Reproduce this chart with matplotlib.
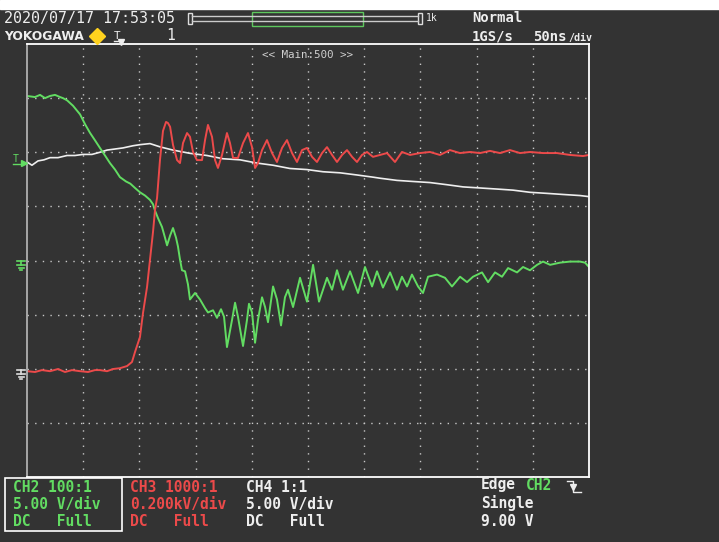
import matplotlib
matplotlib.use("Agg")
import matplotlib.pyplot as plt
from matplotlib.patches import Rectangle

# ---- waveform data (time in ns, 50 ns/div) ----
t_ch2 = [0, 7.1, 11.6, 16.0, 20.5, 24.9, 29.4, 32.0, 35.6, 40.9,
         47.2, 51.6, 56.0, 60.5, 64.9, 69.4, 73.8, 78.3, 82.7, 85.4,
         88.1, 91.9, 96.1, 100.5, 105.0, 109.4, 112.1, 113.9, 116.6, 120.1,
         122.8, 124.6, 127.3, 129.9, 132.6, 134.3, 136.1, 137.9, 140.6, 143.2,
         145.0, 149.5, 153.9, 158.4, 161.0, 165.5, 169.0, 172.6, 175.3, 177.9,
         182.4, 185.1, 187.7, 192.2, 195.7, 197.5, 200.2, 202.9, 205.5, 209.1,
         211.8, 214.4, 218.9, 222.4, 226.0, 229.5, 232.2, 236.7, 242.9, 249.1,
         254.5, 259.8, 266.9, 271.4, 275.8, 281.1, 287.4, 294.5, 300.7, 307.0,
         311.4, 316.7, 323.0, 329.2, 333.6, 338.1, 342.5, 347.9, 352.3, 356.8,
         364.8, 371.9, 378.1, 385.3, 391.5, 396.8, 404.8, 410.2, 416.4, 422.6,
         428.0, 436.0, 441.3, 447.5, 453.8, 459.1, 465.4, 474.2, 483.1, 492.0,
         496.5, 500.0]
v_ch2 = [15.6, 15.5, 15.7, 15.4, 15.6, 15.7, 15.5, 15.4, 15.2, 14.7,
         13.9, 13.0, 12.2, 11.5, 10.8, 10.1, 9.4, 8.8, 8.1, 7.9,
         7.7, 7.5, 7.1, 6.7, 6.4, 6.0, 5.6, 5.0, 4.3, 3.5,
         2.5, 1.8, 2.7, 3.4, 2.5, 1.7, 0.5, -0.5, -0.6, -1.8,
         -3.2, -2.6, -3.2, -4.0, -4.4, -4.2, -4.9, -4.1, -4.8, -7.6,
         -5.1, -3.5, -4.8, -7.5, -5.1, -3.6, -4.4, -7.2, -5.1, -3.0,
         -3.9, -5.3, -2.0, -3.2, -5.6, -3.0, -2.3, -3.9, -1.2, -3.4,
         0.0, -3.4, -1.2, -2.3, -0.5, -2.3, -0.6, -2.6, -0.2, -2.0,
         -0.6, -2.1, -0.7, -2.3, -1.1, -2.0, -0.9, -2.0, -2.6, -1.1,
         -0.9, -1.2, -2.0, -1.1, -1.6, -1.1, -0.7, -1.6, -0.7, -1.1,
         -0.3, -0.7, -0.2, -0.5, 0.0, 0.3, 0.0, 0.2, 0.3, 0.3,
         0.2, -0.2]

t_ch3 = [0, 7.1, 13.3, 20.5, 27.6, 33.8, 40.0, 47.2, 54.3, 60.5,
         64.9, 71.2, 76.5, 82.7, 89.0, 93.4, 96.1, 100.5, 103.2, 106.8,
         109.4, 112.1, 113.9, 115.7, 118.3, 121.0, 123.7, 125.4, 127.3, 129.9,
         133.5, 136.1, 138.8, 142.4, 145.0, 147.7, 151.2, 155.7, 158.4, 161.0,
         164.6, 167.3, 169.9, 173.5, 177.9, 180.6, 183.3, 187.7, 192.2, 196.6,
         200.2, 202.9, 205.5, 209.1, 213.5, 218.0, 222.4, 226.9, 231.3, 235.8,
         240.2, 244.7, 249.1, 253.6, 258.0, 262.5, 266.9, 271.4, 275.8, 280.3,
         284.7, 289.2, 293.6, 298.0, 302.5, 307.8, 314.1, 320.3, 327.4, 333.6,
         340.8, 349.6, 358.5, 367.4, 376.3, 385.2, 394.1, 403.0, 411.9, 420.8,
         429.7, 438.6, 447.5, 459.1, 471.5, 483.1, 494.7, 500.0]
v_ch3 = [7, 4, 11, 7, 15, 4, 11, 7, 4, 11,
         11, 7, 15, 18, 26, 41, 78, 133, 222, 318,
         418, 521, 603, 647, 787, 895, 928, 924, 910, 843,
         787, 776, 850, 887, 873, 817, 787, 787, 861, 917,
         873, 787, 758, 806, 887, 850, 795, 795, 850, 887,
         835, 758, 776, 824, 861, 813, 780, 832, 861, 813,
         780, 824, 832, 799, 780, 813, 835, 806, 780, 806,
         824, 799, 780, 806, 817, 799, 806, 813, 780, 817,
         806, 813, 817, 806, 824, 813, 817, 813, 821, 813,
         824, 813, 817, 813, 813, 806, 802, 806]

t_ch4 = [0, 4.4, 9.8, 15.1, 20.5, 27.6, 35.6, 42.7, 49.8, 57.8,
         64.9, 71.2, 78.3, 85.4, 94.3, 100.5, 109.4, 118.3, 129.9, 145.0,
         160.1, 174.4, 189.5, 204.6, 218.9, 234.0, 249.1, 263.3, 278.5, 293.6,
         307.8, 314.1, 329.2, 343.4, 358.5, 373.7, 387.9, 403.0, 418.2, 432.4,
         447.5, 462.7, 476.9, 492.0, 500.0]
v_ch4 = [9.1, 8.8, 9.2, 9.3, 9.5, 9.5, 9.7, 9.7, 9.8, 9.8,
         10.0, 10.2, 10.3, 10.4, 10.6, 10.7, 10.8, 10.5, 10.2, 9.9,
         9.7, 9.4, 9.3, 9.0, 8.8, 8.5, 8.4, 8.2, 8.1, 7.9,
         7.7, 7.6, 7.4, 7.3, 7.2, 7.0, 6.8, 6.7, 6.6, 6.5,
         6.3, 6.2, 6.1, 6.0, 5.9]

# vertical scale (V/div) and zero position (div from centre) per channel
ch2_scale, ch2_pos = 5.0, -0.08
ch3_scale, ch3_pos = 200.0, -2.08
ch4_scale, ch4_pos = 5.0, 0.0

BG = "#333333"
GREEN = "#62dc62"
RED = "#ec4a4a"
WHITE = "#eeeeee"
MONO = "DejaVu Sans Mono"

fig = plt.figure(figsize=(7.19, 5.42), dpi=100, facecolor=BG)

# graticule: 10 x 8 divisions
ax = fig.add_axes([27 / 719, 65 / 542, 562 / 719, 433 / 542])
ax.set_facecolor(BG)
ax.set_xlim(0, 500)
ax.set_ylim(-4, 4)
ax.set_xticks(range(50, 500, 50))
ax.set_yticks(range(-3, 4))
ax.tick_params(length=0, labelbottom=False, labelleft=False)
ax.grid(True, color="#c8c8c8", linestyle=(0, (1, 4.5)), linewidth=1.0)
for sp in ax.spines.values():
    sp.set_color("white")
    sp.set_linewidth(1.3)
ax.spines["left"].set_color("#b0b0b0")

ax.plot(t_ch4, [v / ch4_scale + ch4_pos for v in v_ch4], color=WHITE, lw=1.2)
ax.plot(t_ch2, [v / ch2_scale + ch2_pos for v in v_ch2], color=GREEN, lw=1.4)
ax.plot(t_ch3, [v / ch3_scale + ch3_pos for v in v_ch3], color=RED, lw=1.4)
ax.text(0.5, 0.985, "<< Main:500 >>", transform=ax.transAxes, ha="center", va="top",
        color="#cfcfcf", fontsize=7.8, family=MONO)

# overlay in screen pixels for the instrument annotations
ov = fig.add_axes([0, 0, 1, 1], facecolor="none")
ov.set_xlim(0, 719)
ov.set_ylim(542, 0)
ov.axis("off")
ov.add_patch(Rectangle((0, 0), 719, 9, color="white"))

def txt(x, y, s, color=WHITE, size=10.5, **kw):
    ov.text(x, y, s, color=color, fontsize=size, family=MONO, va="center", **kw)

# header
txt(4, 18, "2020/07/17 17:53:05", size=10.8)
ov.text(4, 37, "YOKOGAWA", color=WHITE, fontsize=8.8, fontweight="bold", va="center",
        family="DejaVu Sans")
ov.plot([97], [36], marker="D", color="#ffd21e", markersize=8)
txt(114, 36, "T", size=8)
ov.plot([114, 122], [41, 41], color=WHITE, lw=1)
ov.plot([121], [42], marker="v", color=WHITE, markersize=4)
txt(166, 36, "1")

ov.add_patch(Rectangle((188, 13), 4, 11, fill=False, ec="#dddddd", lw=1))
ov.plot([192, 418], [16, 16], color="#cccccc", lw=1)
ov.plot([192, 418], [21, 21], color="#cccccc", lw=1)
ov.add_patch(Rectangle((252, 12), 111, 14, fill=False, ec="#5ec85e", lw=1))
ov.add_patch(Rectangle((418, 13), 4, 11, fill=False, ec="#dddddd", lw=1))
txt(426, 18, "1k", size=7)

txt(472, 18, "Normal", size=10, fontweight="bold")
txt(472, 37, "1GS/s", size=10, fontweight="bold")
txt(533, 37, "50ns", size=10, fontweight="bold")
txt(568, 38, "/div", size=7.2, fontweight="bold")

# left side markers: trigger level and ground levels
txt(13, 159, "T", color=GREEN, size=7)
ov.plot([13, 21], [164, 164], color=GREEN, lw=1)
ov.plot([24], [163], marker=">", color=GREEN, markersize=5)

def ground(x, y, color):
    ov.plot([x - 4, x + 4], [y, y], color=color, lw=1.2)
    ov.plot([x, x], [y, y + 4], color=color, lw=1.2)
    ov.plot([x - 4, x + 4], [y + 4, y + 4], color=color, lw=1.2)
    ov.plot([x - 2.5, x + 2.5], [y + 6.5, y + 6.5], color=color, lw=1.2)
    ov.plot([x - 1, x + 1], [y + 9, y + 9], color=color, lw=1.2)

ground(21, 261, GREEN)
ground(21, 370, "#dddddd")

# channel settings
ov.add_patch(Rectangle((5, 478), 117, 53, fill=False, ec="white", lw=1.2))
txt(13, 487, "CH2 100:1", color=GREEN, fontweight="bold")
txt(13, 504, "5.00 V/div", color=GREEN, fontweight="bold")
txt(13, 521, "DC   Full", color=GREEN, fontweight="bold")
txt(130, 487, "CH3 1000:1", color=RED, fontweight="bold")
txt(130, 504, "0.200kV/div", color=RED, fontweight="bold")
txt(130, 521, "DC   Full", color=RED, fontweight="bold")
txt(246, 487, "CH4 1:1", fontweight="bold")
txt(246, 504, "5.00 V/div", fontweight="bold")
txt(246, 521, "DC   Full", fontweight="bold")

# trigger settings
txt(481, 485, "Edge", fontweight="bold")
txt(526, 485, "CH2", color=GREEN, fontweight="bold")
ov.plot([567, 573, 573, 581], [481, 481, 492, 492], color=WHITE, lw=1)
ov.plot([573], [487], marker="v", color=WHITE, markersize=4)
txt(481, 503, "Single", fontweight="bold")
txt(481, 521, "9.00 V", fontweight="bold")

fig.savefig("out.png", dpi=100, facecolor=BG)
